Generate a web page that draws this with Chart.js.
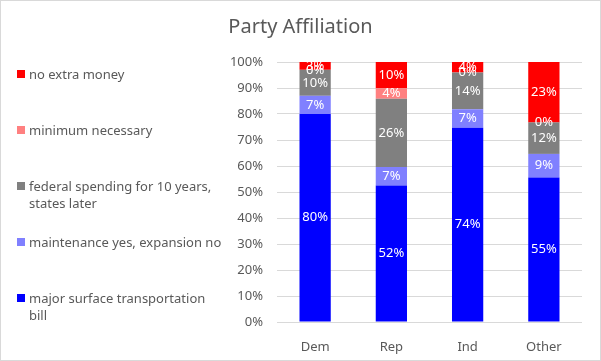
<!DOCTYPE html>
<html>
<head>
<meta charset="utf-8">
<script src="https://cdn.jsdelivr.net/npm/chart.js@4.4.1/dist/chart.umd.min.js"></script>
<style>
    body { margin: 0; background: #fff; }
    #wrap { position: relative; width: 601px; height: 361px; font-family: "Noto Sans", sans-serif; }
    #frame { position: absolute; left: 0; top: 0; width: 599px; height: 359px; border: 1px solid #d9d9d9; pointer-events: none; }
    #legend { position: absolute; left: 0; top: 0; }
    .item { position: absolute; left: 17px; width: 210px; font-size: 13px; line-height: 17px; color: #595959; }
    .item span.box { position: absolute; left: 0; top: 4px; width: 8px; height: 8px; }
    .item span.txt { display: block; margin-left: 12px; max-width: 196px; }
</style>
</head>
<body>
<div id="wrap">
    <canvas id="chart" width="601" height="361"></canvas>
    <div id="legend"></div>
    <div id="frame"></div>
</div>
<script>
const categories = ["Dem", "Rep", "Ind", "Other"];

const seriesNames = [
    "major surface transportation bill",
    "maintenance yes, expansion no",
    "federal spending for 10 years, states later",
    "minimum necessary",
    "no extra money"
];

const seriesColors = ["#0000ff", "#8080ff", "#808080", "#ff8080", "#ff0000"];

// percent values per series, in category order
const majorBill   = [80, 52, 74, 55];
const maintenance = [7, 7, 7, 9];
const federal     = [10, 26, 14, 12];
const minimum     = [0, 4, 0, 0];
const noExtra     = [3, 10, 4, 23];

const seriesValues = [majorBill, maintenance, federal, minimum, noExtra];

const yTicks = [0, 10, 20, 30, 40, 50, 60, 70, 80, 90, 100];

// 100% stacked: scale each column to its total
const totals = categories.map((c, i) => seriesValues.reduce((s, arr) => s + arr[i], 0));

const datasets = seriesValues.map((arr, k) =>
    ({
        label: seriesNames[k],
        data: arr.map((v, i) => v / totals[i] * 100),
        raw: arr,
        backgroundColor: seriesColors[k],
        borderWidth: 0,
        barPercentage: 0.41,
        categoryPercentage: 1
    }));

const labelPlugin =
    {
        id: "segLabels",
        afterDatasetsDraw(chart)
        {
            const ctx = chart.ctx;
            ctx.save();
            ctx.fillStyle = "#ffffff";
            ctx.font = "13px 'Noto Sans', sans-serif";
            ctx.textAlign = "center";
            ctx.textBaseline = "middle";
            chart.data.datasets.forEach((ds, k) =>
            {
                chart.getDatasetMeta(k).data.forEach((bar, i) =>
                {
                    ctx.fillText(ds.raw[i] + "%", bar.x, (bar.y + bar.base) / 2);
                });
            });
            ctx.restore();
        }
    };

new Chart(document.getElementById("chart").getContext("2d"),
    {
        type: "bar",
        data: { labels: categories, datasets: datasets },
        options: {
            responsive: false,
            animation: false,
            devicePixelRatio: 1,
            layout: { padding: { left: 19, right: 19, top: 0, bottom: 0 } },
            plugins: {
                legend: { display: false },
                tooltip: { enabled: false },
                title: {
                    display: true,
                    text: "Party Affiliation",
                    color: "#595959",
                    font: { family: "'Noto Sans', sans-serif", size: 20, weight: "normal" },
                    padding: { top: 15, bottom: 23 }
                }
            },
            scales: {
                x: {
                    stacked: true,
                    grid: { display: false },
                    border: { display: false },
                    ticks: { color: "#595959", font: { family: "'Noto Sans', sans-serif", size: 13 }, padding: 9 },
                    afterFit: (scale) => { scale.height = 39; }
                },
                y: {
                    stacked: true,
                    min: 0,
                    max: 100,
                    afterBuildTicks: (scale) => { scale.ticks = yTicks.map(v => ({ value: v })); },
                    grid: { color: "#d9d9d9", drawTicks: false },
                    border: { display: false },
                    ticks: {
                        color: "#595959",
                        font: { family: "'Noto Sans', sans-serif", size: 13 },
                        padding: 14,
                        callback: (v) => v + "%"
                    },
                    afterFit: (scale) => { scale.width = 258; }
                }
            }
        },
        plugins: [labelPlugin]
    });

// legend, top item first
const legendTops = [66, 122, 178, 234, 290];
const legend = document.getElementById("legend");
seriesNames.slice().reverse().forEach((name, j) =>
{
    const k = seriesNames.length - 1 - j;
    const div = document.createElement("div");
    div.className = "item";
    div.style.top = legendTops[j] + "px";
    div.innerHTML = '<span class="box" style="background:' + seriesColors[k] + '"></span><span class="txt"></span>';
    div.querySelector(".txt").textContent = name;
    legend.appendChild(div);
});
</script>
</body>
</html>
